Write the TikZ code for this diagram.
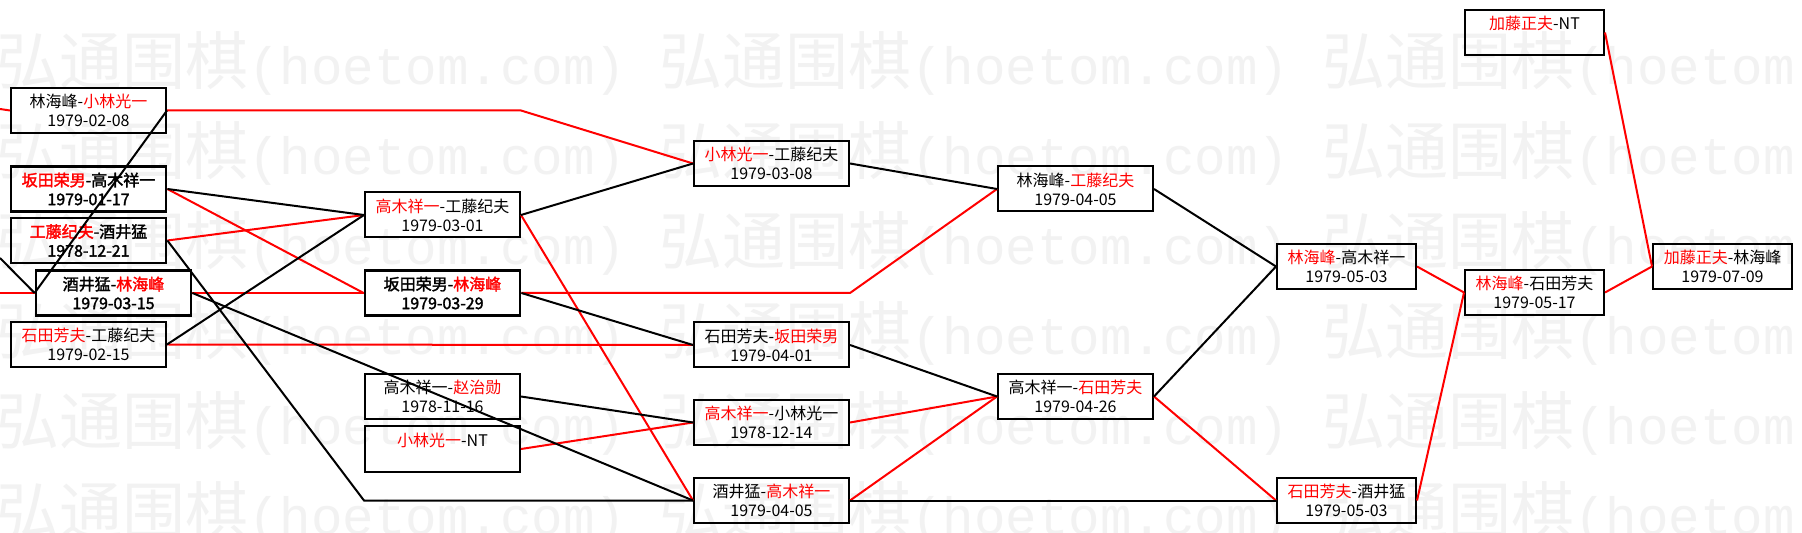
\documentclass[tikz,border=0pt]{standalone}
\usepackage{fontspec}
\setmainfont{Noto Sans CJK SC}
\newfontfamily\markfont{Liberation Mono}
\newfontfamily\boldcjk[FakeBold=2]{Noto Sans CJK SC}
\usepackage{tikz}
\usetikzlibrary{positioning}
\usepackage{xcolor}
\definecolor{WinRed}{HTML}{FF0000}
\definecolor{Mark}{HTML}{F2F2F2}
\newcommand{\win}[1]{\textcolor{WinRed}{#1}}

\begin{document}
\begin{tikzpicture}[x=0.5pt, y=-0.5pt,
  game/.style={draw, line width=1pt, minimum width=77.5pt, minimum height=22.5pt,
    inner sep=0pt, align=center, font=\fontsize{8pt}{9.5pt}\selectfont},
  narrow/.style={game, minimum width=69.5pt},
  heavy/.style={game, line width=1.4pt, font=\fontsize{8pt}{9.5pt}\selectfont\boldcjk},
  wm/.style={anchor=west, inner sep=0pt, text=Mark, font=\fontsize{31.5pt}{32pt}\selectfont},
  redline/.style={WinRed, line width=1pt},
  blackline/.style={black, line width=1pt}]
  \fill[white] (0,0) rectangle (1802,533);
  \useasboundingbox (0,0) rectangle (1802,533);

  % watermark
  \foreach \r in {0,...,5} {
    \foreach \c in {0,1,2} {
      \node[wm] (wm\r\c) at (\c*663-4, 63+\r*90)
        {弘通围棋{\markfont\fontsize{26.25pt}{27pt}\selectfont(hoetom.com)}};
    }
  }

  % first round
  \node[game]  (a1) at (88.5,110.5) {林海峰-\win{小林光一}\\1979-02-08};
  \node[heavy] (a2) at (88.5,189)   {\win{坂田荣男}-高木祥一\\1979-01-17};
  \node[heavy] (a3) at (88.5,240.5) {\win{工藤纪夫}-酒井猛\\1978-12-21};
  \node[heavy] (a4) at (113.5,293)  {酒井猛-\win{林海峰}\\1979-03-15};
  \node[game]  (a5) at (88.5,344.5) {\win{石田芳夫}-工藤纪夫\\1979-02-15};

  \node[game]  (b1) at (442.5,215)   {\win{高木祥一}-工藤纪夫\\1979-03-01};
  \node[heavy] (b2) at (442.5,293)   {坂田荣男-\win{林海峰}\\1979-03-29};
  \node[game]  (b3) at (442.5,396.5) {高木祥一-\win{赵治勋}\\1978-11-16};
  \node[game]  (b4) at (442.5,449)   {\win{小林光一}-NT\\\phantom{0}};

  \node[game] (c1) at (771.5,163.5) {\win{小林光一}-工藤纪夫\\1979-03-08};
  \node[game] (c2) at (771.5,345)   {石田芳夫-\win{坂田荣男}\\1979-04-01};
  \node[game] (c3) at (771.5,422.5) {\win{高木祥一}-小林光一\\1978-12-14};
  \node[game] (c4) at (771.5,500.5) {酒井猛-\win{高木祥一}\\1979-04-05};

  \node[game] (d1) at (1075.5,189)   {林海峰-\win{工藤纪夫}\\1979-04-05};
  \node[game] (d2) at (1075.5,396.5) {高木祥一-\win{石田芳夫}\\1979-04-26};

  \node[narrow] (e1) at (1346.5,266.5) {\win{林海峰}-高木祥一\\1979-05-03};
  \node[narrow] (e2) at (1346.5,500.5) {\win{石田芳夫}-酒井猛\\1979-05-03};

  \node[narrow] (f1) at (1534.5,32.5)  {\win{加藤正夫}-NT\\\phantom{0}};
  \node[narrow] (f2) at (1534.5,292.5) {\win{林海峰}-石田芳夫\\1979-05-17};

  \node[narrow] (g1) at (1722.5,266.5) {\win{加藤正夫}-林海峰\\1979-07-09};

  \coordinate (in1) at (0,109);
  \coordinate (in2) at (0,258);
  \coordinate (in3) at (0,293);

  % winners
  \draw[redline] (in1) -- (a1.west);
  \draw[redline] (in3) -- (a4.west);
  \draw[redline] (a1.east) -- (b1.east |- a1.east) -- (c1.west);
  \draw[redline] (a2.east) -- (b2.west);
  \draw[redline] (a3.east) -- (b1.west);
  \draw[redline] (a4.east) -- (b2.west);
  \draw[redline] (a5.east) -- (c2.west);
  \draw[redline] (b1.east) -- (c4.west);
  \draw[redline] (b2.east) -- (c2.east |- b2.east) -- (d1.west);
  \draw[redline] (b4.east) -- (c3.west);
  \draw[redline] (c3.east) -- (d2.west);
  \draw[redline] (c4.east) -- (d2.west);
  \draw[redline] (d2.east) -- (e2.west);
  \draw[redline] (e1.east) -- (f2.west);
  \draw[redline] (e2.east) -- (f2.west);
  \draw[redline] (f1.east) -- (g1.west);
  \draw[redline] (f2.east) -- (g1.west);

  % losers
  \draw[blackline] (in2) -- (a4.west);
  \draw[blackline] (a1.east) -- (a4.west);
  \draw[blackline] (a2.east) -- (b1.west);
  \draw[blackline] (a3.east) -- (b1.west |- c4.west) -- (c4.west);
  \draw[blackline] (a4.east) -- (c4.west);
  \draw[blackline] (a5.east) -- (b1.west);
  \draw[blackline] (b1.east) -- (c1.west);
  \draw[blackline] (b2.east) -- (c2.west);
  \draw[blackline] (b3.east) -- (c3.west);
  \draw[blackline] (c1.east) -- (d1.west);
  \draw[blackline] (c2.east) -- (d2.west);
  \draw[blackline] (c4.east) -- (e2.west);
  \draw[blackline] (d1.east) -- (e1.west);
  \draw[blackline] (d2.east) -- (e1.west);
\end{tikzpicture}
\end{document}
